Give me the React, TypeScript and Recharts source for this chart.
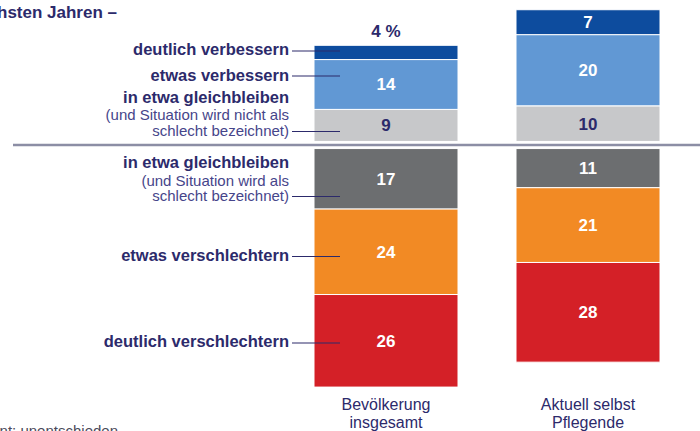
import React from "react";
import { BarChart, Bar, XAxis, YAxis, ReferenceLine, LabelList } from "recharts";

const categories = ["Bevölkerung insgesamt", "Aktuell selbst Pflegende"];
const deutlichVerbessern = [4, 7];
const etwasVerbessern = [14, 20];
const gleichNichtSchlecht = [9, 10];
const gleichSchlecht = [17, 11];
const etwasVerschlechtern = [24, 21];
const deutlichVerschlechtern = [26, 28];
const zeroGap = [1, 1];

const data = categories.map((name, i) => ({
  name,
  gapUp: zeroGap[i],
  gapDown: -zeroGap[i],
  gleichNichtSchlecht: gleichNichtSchlecht[i],
  etwasVerbessern: etwasVerbessern[i],
  deutlichVerbessern: deutlichVerbessern[i],
  gleichSchlecht: -gleichSchlecht[i],
  etwasVerschlechtern: -etwasVerschlechtern[i],
  deutlichVerschlechtern: -deutlichVerschlechtern[i],
}));

const FONT = "'Liberation Sans', Arial, sans-serif";
const NAVY = "#2c2a6b";
const NAVY_LIGHT = "#46458a";

const makeLabel = (fill: string, smallAbove = false) => (props: any) => {
  const vb = props.viewBox ?? props;
  const x = Number(vb.x ?? props.x);
  const y = Number(vb.y ?? props.y);
  const w = Number(vb.width ?? props.width);
  const h = Number(vb.height ?? props.height);
  const v = Math.abs(Number(props.value));
  if (!isFinite(x) || !isFinite(y)) return null;
  const cx = x + w / 2;
  if (smallAbove && Math.abs(h) < 20) {
    const top = Math.min(y, y + h);
    return (
      <text x={cx} y={top - 8} textAnchor="middle" fill={NAVY} fontFamily={FONT} fontWeight="bold" fontSize={17}>
        {`${v} %`}
      </text>
    );
  }
  const cy = y + h / 2;
  return (
    <text x={cx} y={cy + 6} textAnchor="middle" fill={fill} fontFamily={FONT} fontWeight="bold" fontSize={17}>
      {v}
    </text>
  );
};

const CategoryTick = (props: any) => {
  const { x, y, payload } = props;
  const s = String(payload.value);
  const k = s.lastIndexOf(" ");
  const l1 = s.slice(0, k);
  const l2 = s.slice(k + 1);
  return (
    <text x={x} y={y} textAnchor="middle" fill={NAVY} fontFamily={FONT} fontSize={16}>
      <tspan x={x} y={y + 16}>{l1}</tspan>
      <tspan x={x} y={y + 34}>{l2}</tspan>
    </text>
  );
};

const leftLabels = [
  { lines: [{ t: "deutlich verbessern", b: true, y: 55 }], ly: 51 },
  { lines: [{ t: "etwas verbessern", b: true, y: 81 }], ly: 76 },
  {
    lines: [
      { t: "in etwa gleichbleiben", b: true, y: 103 },
      { t: "(und Situation wird nicht als", b: false, y: 120 },
      { t: "schlecht bezeichnet)", b: false, y: 136 },
    ],
    ly: 131.5,
  },
  {
    lines: [
      { t: "in etwa gleichbleiben", b: true, y: 168 },
      { t: "(und Situation wird als", b: false, y: 186 },
      { t: "schlecht bezeichnet)", b: false, y: 201 },
    ],
    ly: 196.5,
  },
  { lines: [{ t: "etwas verschlechtern", b: true, y: 261 }], ly: 256.5 },
  { lines: [{ t: "deutlich verschlechtern", b: true, y: 347 }], ly: 343 },
];

export default function App() {
  return (
    <div style={{ position: "absolute", left: 0, top: 0, width: 700, height: 431, background: "#fff", overflow: "hidden" }}>
      <BarChart
        width={700}
        height={431}
        data={data}
        stackOffset="sign"
        barSize={144}
        margin={{ top: 2.6, right: 0, left: 13, bottom: 0 }}
      >
        <YAxis hide domain={[-70, 40]} allowDataOverflow />
        <XAxis
          dataKey="name"
          height={36.8}
          axisLine={false}
          tickLine={false}
          tickSize={0}
          tickMargin={0}
          interval={0}
          padding={{ left: 272, right: 11 }}
          tick={<CategoryTick />}
        />
        <Bar dataKey="gapUp" stackId="s" fill="transparent" isAnimationActive={false} />
        <Bar dataKey="gapDown" stackId="s" fill="transparent" isAnimationActive={false} />
        <Bar dataKey="gleichNichtSchlecht" stackId="s" fill="#c7c8ca" stroke="#fff" strokeWidth={1} isAnimationActive={false}>
          <LabelList dataKey="gleichNichtSchlecht" content={makeLabel(NAVY)} />
        </Bar>
        <Bar dataKey="gleichSchlecht" stackId="s" fill="#6c6e70" stroke="#fff" strokeWidth={1} isAnimationActive={false}>
          <LabelList dataKey="gleichSchlecht" content={makeLabel("#ffffff")} />
        </Bar>
        <Bar dataKey="etwasVerbessern" stackId="s" fill="#6198d4" stroke="#fff" strokeWidth={1} isAnimationActive={false}>
          <LabelList dataKey="etwasVerbessern" content={makeLabel("#ffffff")} />
        </Bar>
        <Bar dataKey="etwasVerschlechtern" stackId="s" fill="#f28a24" stroke="#fff" strokeWidth={1} isAnimationActive={false}>
          <LabelList dataKey="etwasVerschlechtern" content={makeLabel("#ffffff")} />
        </Bar>
        <Bar dataKey="deutlichVerbessern" stackId="s" fill="#0d4c9e" stroke="#fff" strokeWidth={1} isAnimationActive={false}>
          <LabelList dataKey="deutlichVerbessern" content={makeLabel("#ffffff", true)} />
        </Bar>
        <Bar dataKey="deutlichVerschlechtern" stackId="s" fill="#d42027" stroke="#fff" strokeWidth={1} isAnimationActive={false}>
          <LabelList dataKey="deutlichVerschlechtern" content={makeLabel("#ffffff")} />
        </Bar>
        <ReferenceLine y={0} stroke="#8c8ea5" strokeWidth={2.5} />
      </BarChart>
      <svg
        width={700}
        height={431}
        style={{ position: "absolute", left: 0, top: 0, pointerEvents: "none" }}
      >
        <text x={117} y={18} textAnchor="end" fill={NAVY} fontFamily={FONT} fontWeight="bold" fontSize={17}>
          in den nächsten Jahren –
        </text>
        {leftLabels.map((g, gi) => (
          <g key={gi}>
            {g.lines.map((ln, li) => (
              <text
                key={li}
                x={289}
                y={ln.y}
                textAnchor="end"
                fill={ln.b ? NAVY : NAVY_LIGHT}
                fontFamily={FONT}
                fontWeight={ln.b ? "bold" : "normal"}
                fontSize={ln.b ? 16.5 : 15}
              >
                {ln.t}
              </text>
            ))}
            <line x1={292} x2={340} y1={g.ly} y2={g.ly} stroke={NAVY} strokeWidth={1.2} />
          </g>
        ))}
        <text x={118} y={436} textAnchor="end" fill="#4a4a5a" fontFamily={FONT} fontSize={15}>
          Rest zu 100 Prozent: unentschieden
        </text>
      </svg>
    </div>
  );
}
